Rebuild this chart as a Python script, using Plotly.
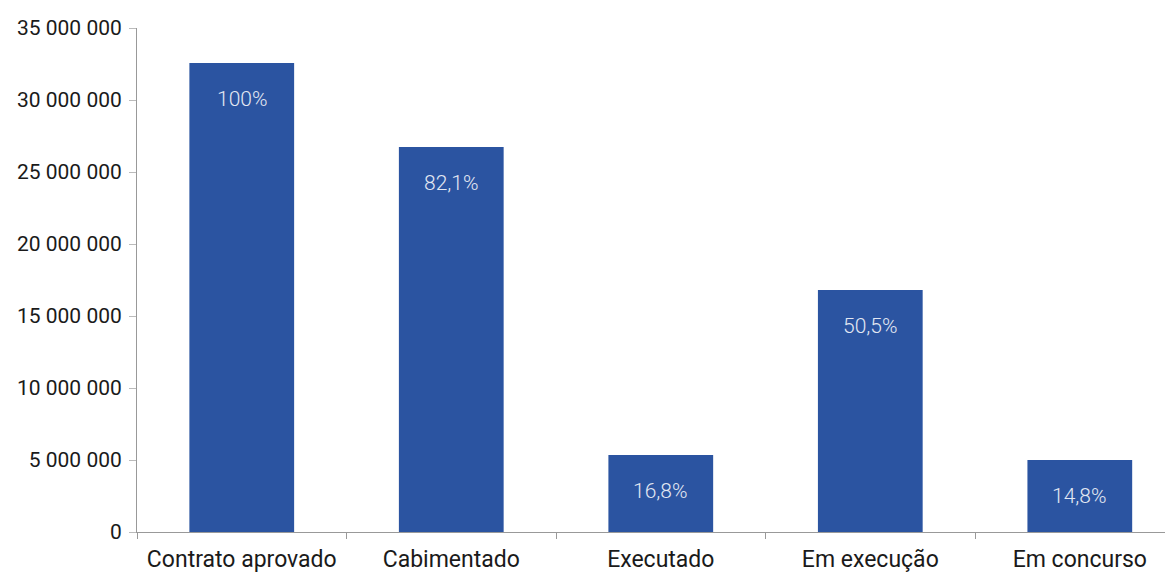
import plotly.graph_objects as go

categories = ["Contrato aprovado", "Cabimentado", "Executado", "Em execução", "Em concurso"]
values = [32570000, 26740000, 5350000, 16800000, 5000000]
pct_labels = ["100%", "82,1%", "16,8%", "50,5%", "14,8%"]
y_ticks = [0, 5000000, 10000000, 15000000, 20000000, 25000000, 30000000, 35000000]

fig = go.Figure()
fig.add_trace(go.Bar(
    x=categories, y=values,
    marker=dict(color="#2b54a1", line=dict(width=0)),
    hoverinfo="skip",
))

for c, v, t in zip(categories, values, pct_labels):
    fig.add_annotation(x=c, y=v, text=t, showarrow=False, yanchor="top", yshift=-22,
                       font=dict(family="Roboto, sans-serif", size=21, weight=300, color="#e3e8f3"))

fig.update_layout(
    width=1173, height=573,
    margin=dict(l=129, r=0, t=20, b=49),
    plot_bgcolor="white", paper_bgcolor="white",
    bargap=0.5,
    separators=", ",
    showlegend=False,
    font=dict(family="Roboto, sans-serif", size=21, color="#1a1a1a"),
)
fig.update_yaxes(
    range=[0, 35000000], tickvals=y_ticks, tickformat=",.0f",
    showgrid=False, zeroline=False,
    showline=True, linecolor="#999", linewidth=1,
    ticks="outside", ticklen=7, tickcolor="#bbb",
    ticklabelstandoff=3, automargin=False,
)
fig.update_xaxes(
    range=[-0.5, 4.483],
    showgrid=False, showline=True, linecolor="#999", linewidth=1,
    ticks="outside", ticklen=6, tickcolor="#999", tickson="boundaries",
    tickfont=dict(size=23), ticklabelstandoff=6, automargin=False,
)

fig.write_html("out.html")
